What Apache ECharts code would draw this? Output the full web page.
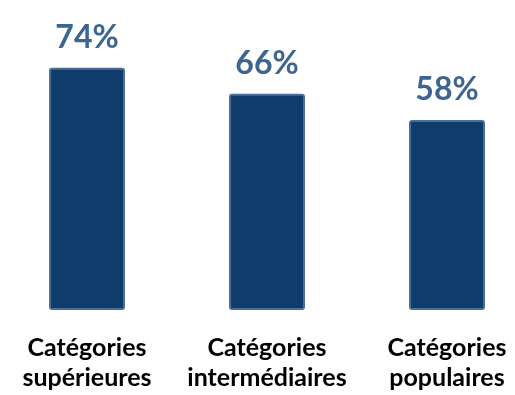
<!DOCTYPE html>
<html>
<head>
<meta charset="utf-8">
<script src="https://cdn.jsdelivr.net/npm/echarts@6/dist/echarts.min.js"></script>
<style>
  html, body { margin: 0; padding: 0; background: #ffffff; overflow: hidden; }
  #chart { width: 540px; height: 395px; margin-left: -3px; }
</style>
</head>
<body>
<div id="chart"></div>
<script>
// Share by social category (percent)
const categories = ['Catégories\nsupérieures', 'Catégories\nintermédiaires', 'Catégories\npopulaires'];
const values = [74, 66, 58];

const chart = echarts.init(document.getElementById('chart'), null, { renderer: 'canvas' });

chart.setOption({
  animation: false,
  grid: { left: 0, right: 0, top: 48, bottom: 85, containLabel: false },
  xAxis: {
    type: 'category',
    data: categories,
    axisLine: { show: false },
    axisTick: { show: false },
    axisLabel: {
      color: '#000000',
      fontFamily: 'Lato, "Open Sans", sans-serif',
      fontWeight: 'bold',
      fontSize: 25,
      lineHeight: 30,
      margin: 23,
      interval: 0
    }
  },
  yAxis: {
    type: 'value',
    min: 0,
    max: 80,
    show: false,
    splitLine: { show: false }
  },
  series: [{
    type: 'bar',
    data: values,
    barWidth: 76,
    itemStyle: {
      color: '#103c6b',
      borderColor: '#4b6f98',
      borderWidth: 2,
      borderRadius: 2
    },
    label: {
      show: true,
      position: 'top',
      distance: 14,
      formatter: '{c}%',
      color: '#3d6590',
      fontFamily: 'Lato, "Open Sans", sans-serif',
      fontWeight: 'bold',
      fontSize: 32
    }
  }]
});
</script>
</body>
</html>
